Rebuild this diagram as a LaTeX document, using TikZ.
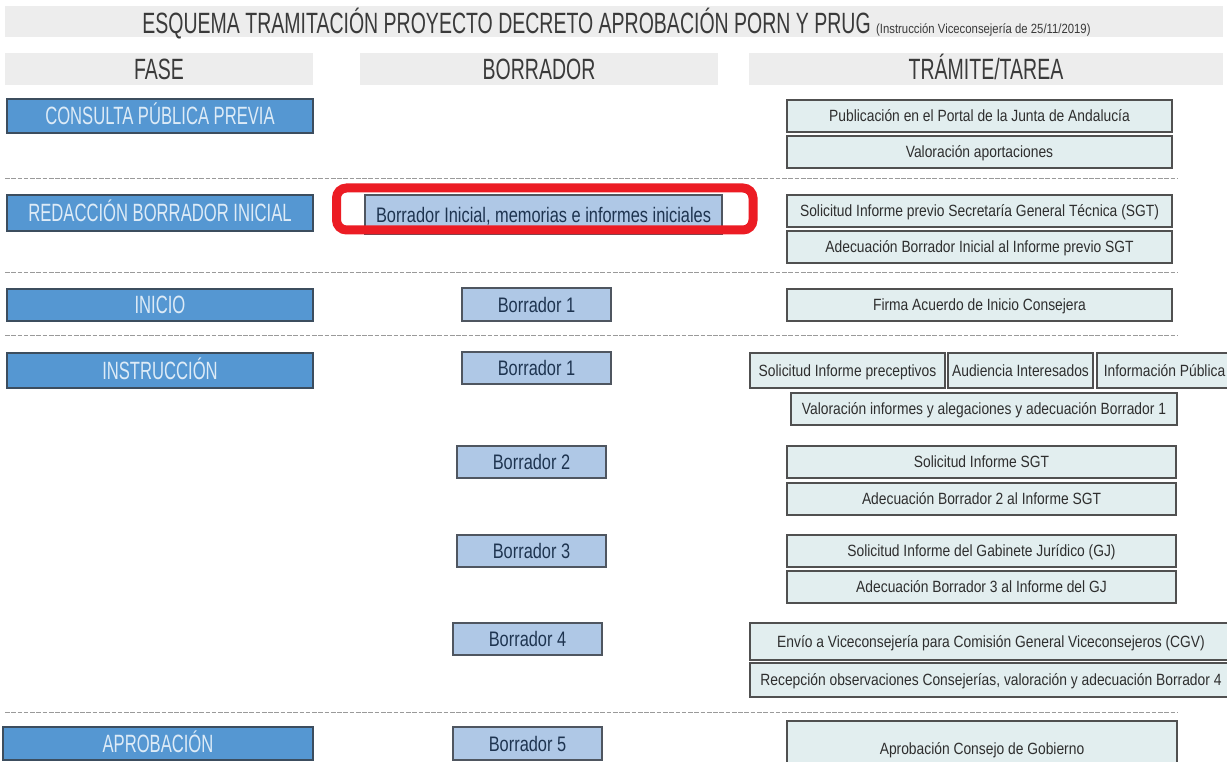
\documentclass[tikz,border=0pt]{standalone}
\usepackage{fontspec}
\setmainfont{Liberation Sans}
\newfontfamily\capsf[FakeStretch=0.665]{Liberation Sans}
\newfontfamily\borf[FakeStretch=0.78]{Liberation Sans}
\newfontfamily\traf[FakeStretch=0.85]{Liberation Sans}
\definecolor{hdrgray}{HTML}{EDEDED}
\definecolor{hdrtext}{HTML}{3A3A3A}
\definecolor{phfill}{HTML}{5597D2}
\definecolor{phdraw}{HTML}{3C4D5E}
\definecolor{phtext}{HTML}{DDEBF7}
\definecolor{bfill}{HTML}{AFC8E6}
\definecolor{bdraw}{HTML}{4F5660}
\definecolor{btext}{HTML}{1E3450}
\definecolor{tfill}{HTML}{E2EEEF}
\definecolor{tdraw}{HTML}{505050}
\definecolor{ttext}{HTML}{2E2E2E}
\definecolor{sepgray}{HTML}{9A9A9A}
\definecolor{hilite}{HTML}{EC1C24}
% box: style, name, x1, y1, x2, y2, text (pixel coordinates)
\newcommand\pxbox[7]{%
  \node[#1, minimum width={(#5-#3)*0.75pt}, minimum height={(#6-#4)*0.75pt}]
    (#2) at ({(#3+#5)/2},{(#4+#6)/2}) {#7};}
\begin{document}
\begin{tikzpicture}[x=0.75pt,y=-0.75pt,
 every node/.style={inner sep=0pt, outer sep=0pt},
 hdrbar/.style={fill=hdrgray, text=hdrtext, text height=15.5pt, text depth=0pt, font=\capsf\fontsize{22}{24}\selectfont},
 phasebox/.style={fill=phfill, draw=phdraw, line width=1.1pt, text=phtext, text height=13.4pt, text depth=0pt, font=\capsf\fontsize{18.75}{20}\selectfont},
 borrbox/.style={fill=bfill, draw=bdraw, line width=1.1pt, text=btext, text height=11.3pt, text depth=0pt, font=\borf\fontsize{15.75}{17}\selectfont},
 trambox/.style={fill=tfill, draw=tdraw, line width=1.1pt, text=ttext, text height=8.7pt, text depth=0pt, font=\traf\fontsize{12.2}{14}\selectfont},
 sepline/.style={draw=sepgray, line width=0.75pt, dash pattern=on 3.5pt off 1.2pt},
 hilitebox/.style={draw=hilite, line width=6.75pt, rounded corners=7.5pt}]
\clip (0,0) rectangle (1227,762);
\fill[white] (0,0) rectangle (1227,762);

% title and headers
\pxbox{hdrbar}{titlebar}{5}{6}{1223}{37}{}
\node[text=hdrtext, text height=15.5pt, text depth=0pt, font=\capsf\fontsize{22}{24}\selectfont] (title) at (616.5,23.5)
 {ESQUEMA TRAMITACIÓN PROYECTO DECRETO APROBACIÓN PORN Y PRUG {\traf\fontsize{10}{12}\selectfont(Instrucción Viceconsejería de 25/11/2019)}};
\pxbox{hdrbar}{hfase}{5}{53}{313}{85}{FASE}
\pxbox{hdrbar}{hborr}{360}{53}{718}{85}{BORRADOR}
\pxbox{hdrbar}{htram}{749}{53}{1223}{85}{TRÁMITE/TAREA}

% separators
\draw[sepline] (5,179) -- (1177,179);
\draw[sepline] (5,273) -- (1177,273);
\draw[sepline] (5,336) -- (1177,336);
\draw[sepline] (5,712) -- (1177,712);

% phases
\pxbox{phasebox}{consulta}{7}{99}{313}{133}{CONSULTA PÚBLICA PREVIA}
\pxbox{phasebox}{redaccion}{7}{195}{313}{231}{REDACCIÓN BORRADOR INICIAL}
\pxbox{phasebox}{inicio}{7}{289}{313}{321}{INICIO}
\pxbox{phasebox}{instruccion}{7}{353}{313}{388}{INSTRUCCIÓN}
\pxbox{phasebox}{aprobacion}{3}{727}{313}{760}{APROBACIÓN}

% borradores
\pxbox{borrbox}{binicial}{365}{195}{722}{234}{Borrador Inicial, memorias e informes iniciales}
\pxbox{borrbox}{bunoa}{462}{288}{611}{321}{Borrador 1}
\pxbox{borrbox}{bunob}{462}{352}{611}{384}{Borrador 1}
\pxbox{borrbox}{bdos}{457}{446}{606}{478}{Borrador 2}
\pxbox{borrbox}{btres}{457}{535}{606}{567}{Borrador 3}
\pxbox{borrbox}{bcuatro}{453}{623}{602}{655}{Borrador 4}
\pxbox{borrbox}{bcinco}{453}{727}{602}{760}{Borrador 5}

% tramites
\pxbox{trambox}{pub}{787}{100}{1172}{132}{Publicación en el Portal de la Junta de Andalucía}
\pxbox{trambox}{valap}{787}{136}{1172}{168}{Valoración aportaciones}
\pxbox{trambox}{solprev}{787}{195}{1172}{227}{Solicitud Informe previo Secretaría General Técnica (SGT)}
\pxbox{trambox}{adecini}{787}{231}{1172}{263}{Adecuación Borrador Inicial al Informe previo SGT}
\pxbox{trambox}{firma}{787}{289}{1172}{321}{Firma Acuerdo de Inicio Consejera}
\pxbox{trambox}{solpre}{750}{353}{945}{388}{Solicitud Informe preceptivos}
\pxbox{trambox}{aud}{948}{353}{1093}{388}{Audiencia Interesados}
\pxbox{trambox}{infpub}{1097}{353}{1232}{388}{Información Pública}
\pxbox{trambox}{valinf}{791}{393}{1177}{425}{Valoración informes y alegaciones y adecuación Borrador 1}
\pxbox{trambox}{solsgt}{787}{446}{1176}{478}{Solicitud Informe SGT}
\pxbox{trambox}{adecdos}{787}{483}{1176}{515}{Adecuación Borrador 2 al Informe SGT}
\pxbox{trambox}{solgj}{787}{535}{1176}{567}{Solicitud Informe del Gabinete Jurídico (GJ)}
\pxbox{trambox}{adectres}{787}{571}{1176}{603}{Adecuación Borrador 3 al Informe del GJ}
\pxbox{trambox}{envio}{750}{623}{1232}{660}{Envío a Viceconsejería para Comisión General Viceconsejeros (CGV)}
\pxbox{trambox}{recep}{750}{663}{1232}{697}{Recepción observaciones Consejerías, valoración y adecuación Borrador 4}
\pxbox{trambox}{aprobcg}{787}{721}{1177}{777}{Aprobación Consejo de Gobierno}

% highlight
\draw[hilitebox] (336.5,188) rectangle (753,230);
\end{tikzpicture}
\end{document}
